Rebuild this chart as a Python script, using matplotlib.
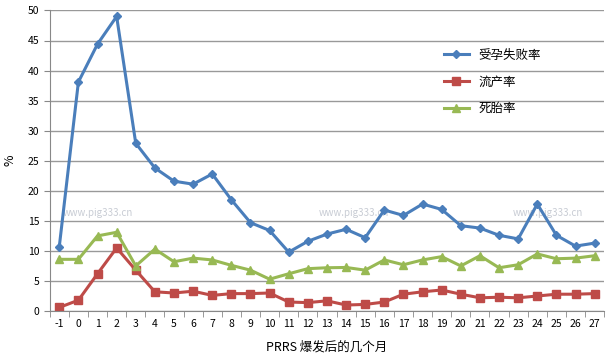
import matplotlib
matplotlib.use("Agg")
import matplotlib.pyplot as plt
import numpy as np

plt.rcParams['font.family'] = ['Noto Sans CJK SC', 'DejaVu Sans']

# 爆发后的月份
months = list(range(-1, 28))

# 受孕失败率
conception_fail = [10.7, 38.1, 44.4, 49.0, 27.9, 23.8, 21.6, 21.1, 22.8, 18.5,
                   14.7, 13.4, 9.8, 11.6, 12.8, 13.6, 12.2, 16.8, 15.9, 17.8,
                   16.9, 14.2, 13.8, 12.6, 12.0, 17.8, 12.6, 10.8, 11.3]
# 流产率
abortion = [0.6, 1.8, 6.2, 10.5, 6.8, 3.2, 3.0, 3.3, 2.6, 2.9,
            2.9, 3.0, 1.5, 1.4, 1.7, 1.0, 1.1, 1.5, 2.8, 3.2,
            3.5, 2.8, 2.2, 2.3, 2.2, 2.5, 2.8, 2.8, 2.9]
# 死胎率
stillborn = [8.6, 8.6, 12.5, 13.1, 7.5, 10.3, 8.2, 8.8, 8.5, 7.6,
             6.8, 5.3, 6.2, 7.05, 7.2, 7.25, 6.8, 8.5, 7.7, 8.5,
             9.05, 7.5, 9.2, 7.2, 7.7, 9.5, 8.7, 8.8, 9.2]

series_names = ['受孕失败率', '流产率', '死胎率']

fig = plt.figure(figsize=(6.1, 3.6), dpi=100)
ax = fig.add_axes([0.0815, 0.136, 0.909, 0.835])

x = np.arange(len(months))
ax.plot(x, conception_fail, color='#4A7EBB', lw=2.2, marker='D', ms=4.5,
        label=series_names[0])
ax.plot(x, abortion, color='#BE4B48', lw=2.2, marker='s', ms=5.5,
        label=series_names[1])
ax.plot(x, stillborn, color='#98B954', lw=2.2, marker='^', ms=6,
        label=series_names[2])

ax.set_xlim(-0.5, len(months) - 0.5)
ax.set_ylim(0, 50)
ax.set_yticks(range(0, 51, 5))
ax.set_xticks(x)
ax.set_xticklabels([str(m) for m in months], fontsize=7.5)
ax.set_xticks(np.arange(-0.5, len(months), 1), minor=True)
ax.tick_params(axis='x', which='major', length=0, pad=6)
ax.tick_params(axis='x', which='minor', length=4, color='#888888')
ax.tick_params(axis='y', labelsize=7.5, length=4, color='#888888')

ax.grid(axis='y', color='#999999', lw=1)
ax.set_axisbelow(True)
for s in ['top', 'right']:
    ax.spines[s].set_visible(False)
for s in ['left', 'bottom']:
    ax.spines[s].set_color('#888888')

ax.set_ylabel('%', fontsize=9, labelpad=8)
ax.set_xlabel('PRRS 爆发后的几个月', fontsize=9, labelpad=8)

# 水印
for wx in [0.087, 0.548, 0.898]:
    ax.text(wx, 0.327, 'www.pig333.cn', transform=ax.transAxes, fontsize=7,
            color='#c8ccd4', ha='center', va='center', zorder=0)

ax.legend(loc='upper left', bbox_to_anchor=(0.69, 0.91), frameon=False,
          fontsize=9, handlelength=2.0, labelspacing=1.1)

plt.savefig('out.png', dpi=100)
